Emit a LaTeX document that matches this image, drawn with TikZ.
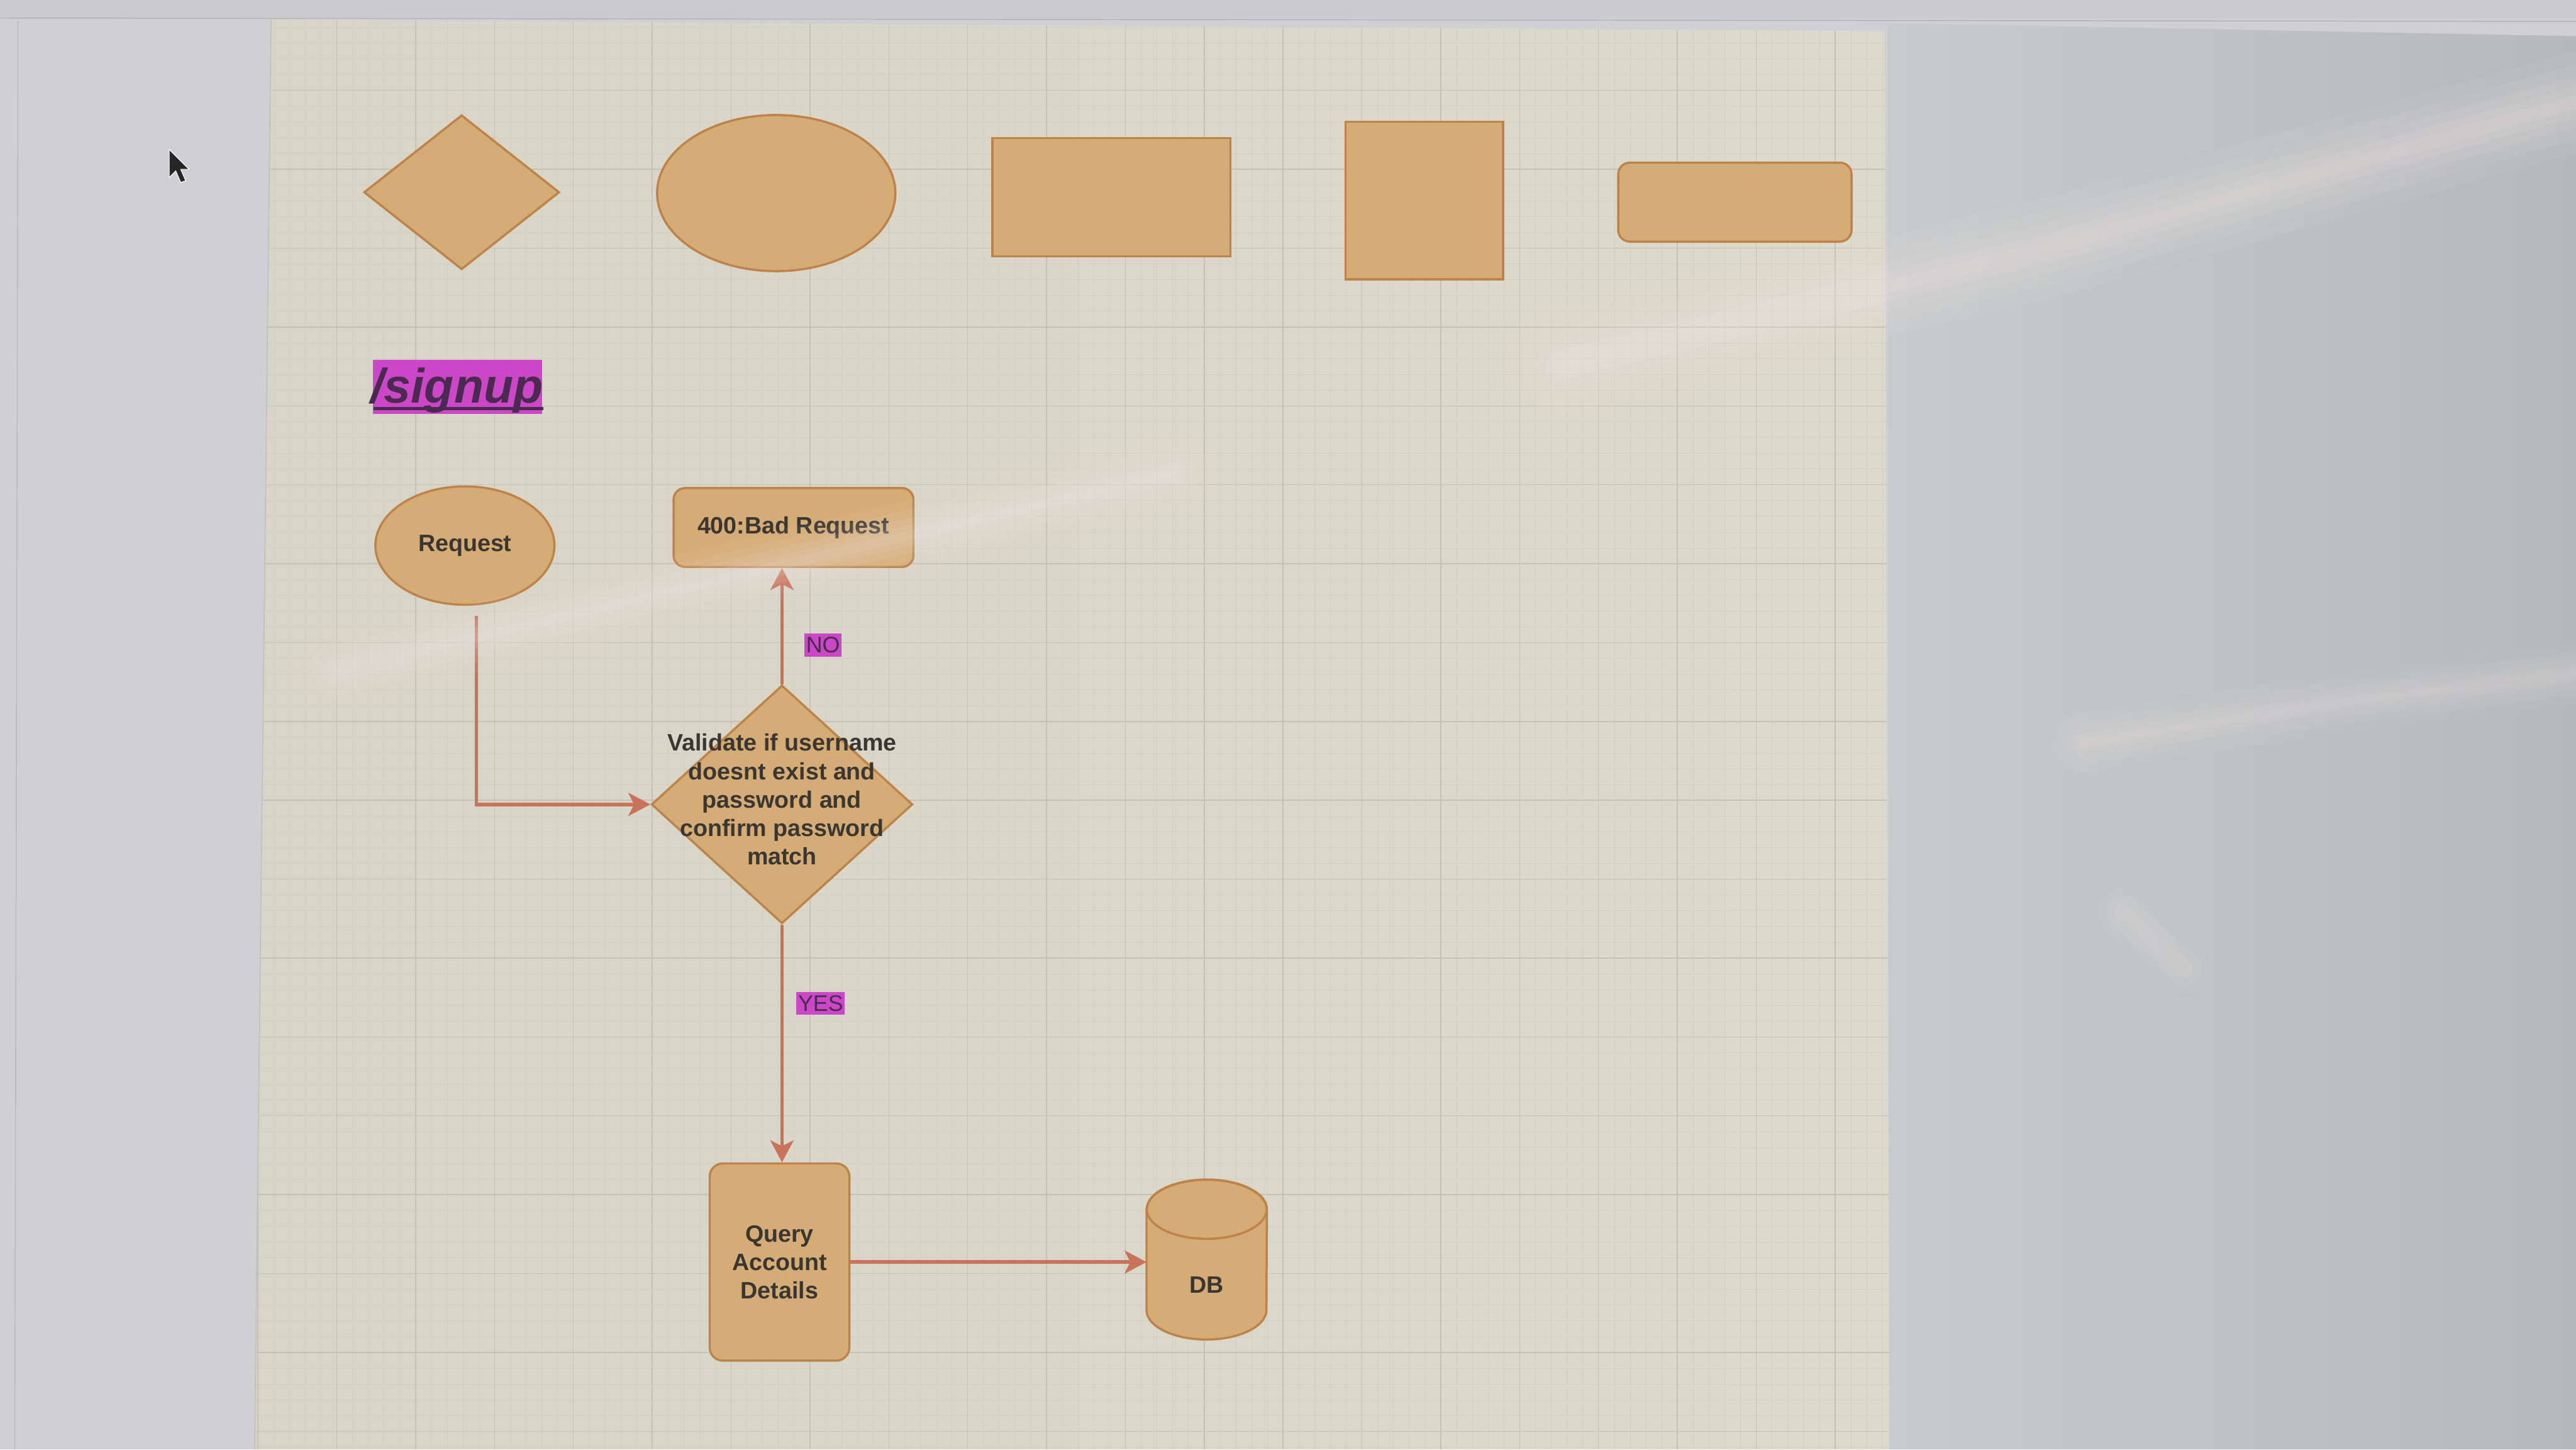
\documentclass[tikz,border=0pt]{standalone}
\usepackage{fontspec}
\setmainfont{Liberation Sans}
\usetikzlibrary{shapes.geometric,arrows.meta,calc}
\definecolor{leftbg}{HTML}{D0CFD3}
\definecolor{topbg}{HTML}{CBCACE}
\definecolor{canvasbg}{HTML}{D7D5C7}
\definecolor{canvasB}{HTML}{DCDACC}
\definecolor{gridminor}{HTML}{D1CFC2}
\definecolor{gridmajor}{HTML}{C4C2B6}
\definecolor{rightA}{HTML}{C8CBCC}
\definecolor{rightB}{HTML}{B5B9BC}
\definecolor{shapefill}{HTML}{D5AC75}
\definecolor{shapeline}{HTML}{BF8249}
\definecolor{arrowc}{HTML}{C8735A}
\definecolor{textdark}{HTML}{3A3632}
\definecolor{hlmag}{HTML}{CC46C8}
\definecolor{hltext}{HTML}{4A2A50}
\definecolor{glare}{HTML}{F2E4E2}
\begin{document}
\begin{tikzpicture}[x=0.5mm,y=-0.5mm,
  shp/.style={draw=shapeline, fill=shapefill, line width=1.9pt, inner sep=0pt},
  txt/.style={font=\fontsize{20.5}{24.6}\selectfont\bfseries, text=textdark, align=center, inner sep=0pt},
  arr/.style={draw=arrowc, line width=3.2pt, -{Stealth[length=19pt,width=20pt,inset=5pt]}},
  hl/.style={fill=hlmag, text=hltext, inner xsep=1.5pt, inner ysep=3pt, font=\fontsize{19.5}{21}\selectfont},
  glr/.style={glare, line cap=round}]
\useasboundingbox (0,0) rectangle (1568,882);
% backgrounds
\fill[leftbg] (0,0) rectangle (1568,882);
\fill[topbg] (0,0) rectangle (1568,11);
\draw[gray!60, line width=0.8pt] (0,11) -- (1568,13);
\shade[left color=rightA, right color=rightB] (1149,14) -- (1568,22) -- (1568,882) -- (1150,882) -- cycle;
\draw[gray!55, line width=0.8pt] (11,13) -- (9,882);
\draw[gray!35, line width=0.6pt] (21,13) -- (20,882);
% canvas
\shade[left color=canvasbg, right color=canvasB] (165,12) -- (1147,19) -- (1150,882) -- (155,882) -- cycle;
\begin{scope}
\clip (165,12) -- (1147,19) -- (1150,882) -- (155,882) -- cycle;
\foreach \i in {0,...,104} {
  \draw[gridminor, line width=0.35pt] ({157+9.6*\i},0) -- ({157+9.6*\i},882);
}
\foreach \i in {0,...,92} {
  \draw[gridminor, line width=0.35pt] (150,{7+9.6*\i}) -- (1160,{7+9.6*\i});
}
\foreach \i in {0,...,21} {
  \draw[gridmajor, line width=0.8pt] ({157+48*\i},0) -- ({157+48*\i},882);
}
\foreach \i in {0,...,18} {
  \draw[gridmajor, line width=0.8pt] (150,{7+48*\i}) -- (1160,{7+48*\i});
}
\end{scope}
\draw[gray!50, line width=0.8pt] (165,12) -- (155,882);
% cursor
\filldraw[fill=black!85, draw=white, line width=0.6pt] (103,91) -- (103,108) -- (107,104) -- (110,111) -- (113,110) -- (110,103) -- (115,103) -- cycle;
% palette shapes
\node[shp, diamond, minimum width=59.5mm, minimum height=47mm] (pd) at (281,117) {};
\node[shp, ellipse, minimum width=72.5mm, minimum height=47.5mm] (pe) at (472.5,117.5) {};
\node[shp, rectangle, minimum width=72.5mm, minimum height=36mm] (pr) at (676.5,120) {};
\node[shp, rectangle, minimum width=48mm, minimum height=48mm] (ps) at (867,122) {};
\node[shp, rectangle, rounded corners=3.5mm, minimum width=71mm, minimum height=24mm] (prr) at (1056,123) {};
% title
\node[fill=hlmag, inner sep=0pt, minimum width=51.5mm, minimum height=16.5mm] (signup) at (278.5,235.5) {};
\node[text=hltext, inner sep=0pt, font=\fontsize{42}{46}\selectfont\bfseries\itshape, anchor=base] (signuptxt) at (278,245) {/signup};
\draw[hltext, line width=2.6pt] ($(signuptxt.base west)+(2,3.5)$) -- ($(signuptxt.base east)+(0,3.5)$);
% flow nodes
\node[shp, ellipse, minimum width=54.5mm, minimum height=36mm, txt] (req) at (283,332) {Request};
\node[shp, rectangle, rounded corners=3.5mm, minimum width=73mm, minimum height=24mm, txt] (bad) at (483,321) {400:Bad Request};
\node[shp, diamond, minimum width=79.5mm, minimum height=72.5mm] (val) at (476,489.5) {};
\node[txt] (valtxt) at (476,486.5) {Validate if username\\doesnt exist and\\password and\\confirm password\\match};
\node[shp, rectangle, rounded corners=4mm, minimum width=42.5mm, minimum height=60mm, txt] (qad) at (474.5,768) {Query\\Account\\Details};
\node[minimum width=36.5mm, minimum height=48.5mm, inner sep=0pt] (db) at (734.5,766.5) {};
\path[shp] ($(db.north west)+(0,18)$) -- ($(db.south west)+(0,-18)$)
  arc[start angle=180, end angle=0, x radius=36.5, y radius=18]
  -- ($(db.north east)+(0,18)$)
  arc[start angle=0, end angle=-180, x radius=36.5, y radius=18] -- cycle;
\draw[draw=shapeline, line width=1.9pt] ($(db.north)+(0,18)$) ellipse [x radius=36.5, y radius=18];
\node[txt] (dbtxt) at ($(db.center)+(0,15.5)$) {DB};
% connectors
\draw[arr] ($(req.south)+(7,6)$) |- (val.west);
\draw[arr] (val.north) -- (val.north |- bad.south);
\draw[arr] (val.south) -- (val.south |- qad.north);
\draw[arr] (qad.east) -- (qad.east -| db.west);
% labels
\node[hl] (no) at (501,392.5) {NO};
\node[hl] (yes) at (499.5,610.5) {YES};
% glare reflections
\foreach \w/\o in {60/0.06,44/0.08,30/0.1,18/0.12,8/0.12} {
  \draw[glr, line width=\w*0.5mm, opacity=\o] (950,222) -- (1250,150) -- (1568,62);
  \draw[glr, line width=\w*0.35mm, opacity=\o] (205,408) -- (450,350) -- (715,288);
  \draw[glr, line width=\w*0.3mm, opacity=\o*0.7] (1268,452) -- (1420,428) -- (1568,410);
}
\foreach \w/\o in {30/0.06,20/0.08,10/0.1} {
  \draw[glr, line width=\w*0.5mm, opacity=\o] (1292,555) -- (1330,590);
}
\end{tikzpicture}
\end{document}
